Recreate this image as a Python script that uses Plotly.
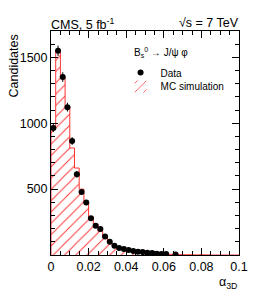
import numpy as np
import plotly.graph_objects as go

# ---- data ----
bin_width = 0.0025
mc_counts = [975, 1555, 1340, 1126, 812, 660, 500, 403, 289, 235,
             180, 135, 95, 68, 52, 42, 34, 27, 22, 18,
             14, 11, 9, 7, 6, 5, 4, 3, 2, 2,
             1, 1, 1, 1, 0, 0, 0, 0, 0, 0]
data_alpha = [0.00125, 0.00375, 0.00625, 0.00875, 0.01125, 0.01375, 0.01625, 0.01875,
              0.02125, 0.02375, 0.02625, 0.02875, 0.03125, 0.03375, 0.03625, 0.03875,
              0.04125, 0.04375, 0.04625, 0.04875, 0.05125, 0.05375, 0.05625, 0.05875,
              0.06125, 0.06625]
data_counts = [964, 1550, 1350, 1122, 865, 612, 478, 398,
               278, 222, 198, 140, 100, 70, 54, 46,
               38, 30, 25, 22, 18, 15, 10, 8,
               8, 3]
x_tick_vals = [0, 0.02, 0.04, 0.06, 0.08, 0.1]
x_tick_text = ["0", "0.02", "0.04", "0.06", "0.08", "0.1"]
y_tick_vals = [500, 1000, 1500]

FONT = "Liberation Sans, Arial, sans-serif"
RED = "#ff3333"

n_bins = len(mc_counts)
edges = np.arange(n_bins + 1) * bin_width
centers = edges[:-1] + bin_width / 2

fig = go.Figure()

# hatched MC histogram body
fig.add_trace(go.Bar(
    x=centers, y=mc_counts, width=bin_width,
    marker=dict(color="white",
                line=dict(width=0),
                pattern=dict(shape="/", fgcolor=RED, bgcolor="white",
                             size=8, solidity=0.12, fgopacity=1)),
    name="MC simulation", showlegend=True, legend="legend2",
))

# MC outline (step)
step_x = np.concatenate([[edges[0]], edges])
step_y = np.concatenate([[0], mc_counts, [mc_counts[-1]]])
fig.add_trace(go.Scatter(
    x=step_x, y=step_y, mode="lines", line=dict(color=RED, width=1, shape="hv"),
    showlegend=False, hoverinfo="skip",
))

# data points
fig.add_trace(go.Scatter(
    x=data_alpha, y=data_counts, mode="markers",
    marker=dict(color="black", size=6),
    error_y=dict(type="data", array=list(np.sqrt(data_counts)), color="black",
                 thickness=1, width=0),
    name="Data", legend="legend",
))

leg_common = dict(xanchor="left", yanchor="top", bgcolor="rgba(0,0,0,0)",
                  borderwidth=0, font=dict(size=10), itemwidth=30)

# page has an 8px body margin: figure is shrunk so that plot area lands at
# x 48..239, y 31..255 of the 266x300 window
fig.update_layout(
    width=258, height=292,
    margin=dict(l=40, r=27, t=23, b=45),
    paper_bgcolor="white", plot_bgcolor="white",
    font=dict(family=FONT, size=12, color="black"),
    bargap=0,
    legend=dict(x=0.37, y=0.879, **leg_common),
    legend2=dict(x=0.37, y=0.817, **leg_common),
    xaxis=dict(
        range=[0, 0.1], tickvals=x_tick_vals, ticktext=x_tick_text,
        ticks="inside", ticklen=7, tickcolor="black",
        showline=True, linecolor="black", linewidth=1, mirror="ticks",
        showgrid=False, zeroline=False,
        tickfont=dict(size=12.5),
        minor=dict(dtick=0.005, tick0=0, ticks="inside", ticklen=4, tickcolor="black", showgrid=False),
    ),
    yaxis=dict(
        range=[0, 1700], tickvals=y_tick_vals,
        ticks="inside", ticklen=7, tickcolor="black",
        showline=True, linecolor="black", linewidth=1, mirror="ticks",
        showgrid=False, zeroline=False,
        tickfont=dict(size=12.5),
        minor=dict(dtick=100, tick0=0, ticks="inside", ticklen=4, tickcolor="black", showgrid=False),
    ),
)

fig.add_annotation(text="B<sub>s</sub><sup>0</sup> → J/ψ φ", xref="paper", yref="paper",
                   x=0.429, y=0.902, xanchor="left", yanchor="middle", showarrow=False,
                   font=dict(size=10))
fig.add_annotation(text="CMS, 5 fb<sup>-1</sup>", xref="paper", yref="paper",
                   x=0, y=1, xanchor="left", yanchor="middle", showarrow=False,
                   font=dict(size=12.5), xshift=-2, yshift=7)
fig.add_annotation(text="√s = 7 TeV", xref="paper", yref="paper",
                   x=1, y=1, xanchor="right", yanchor="middle", showarrow=False,
                   font=dict(size=12.5), xshift=2, yshift=8)
fig.add_annotation(text="Candidates", xref="paper", yref="paper",
                   x=0, y=1, xanchor="right", yanchor="top", textangle=-90,
                   showarrow=False, font=dict(size=12.5), xshift=-29, yshift=-2)
fig.add_annotation(text="α<sub>3D</sub>", xref="paper", yref="paper",
                   x=1, y=0, xanchor="right", yanchor="top", showarrow=False,
                   font=dict(size=12.5), yshift=-18)

fig.write_html("out.html")
